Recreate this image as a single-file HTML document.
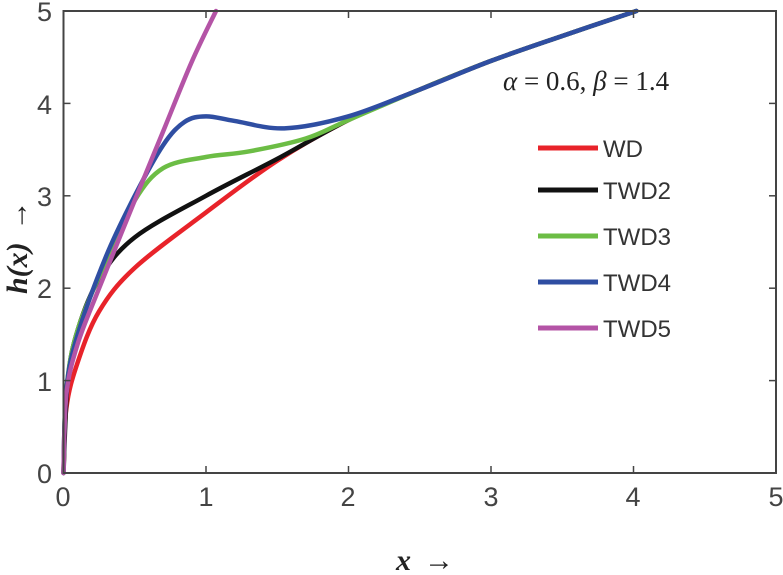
<!DOCTYPE html>
<html><head><meta charset="utf-8"><style>
html,body{margin:0;padding:0;background:#fff;}
svg{display:block;}
.t{font-family:"Liberation Sans",sans-serif;font-size:27px;fill:#444;}
.l{font-family:"Liberation Sans",sans-serif;font-size:24px;fill:#333;}
</style></head><body>
<svg id="s" width="783" height="575" viewBox="0 0 783 575" xmlns="http://www.w3.org/2000/svg">
<g id="curves" fill="none" stroke-width="4.5" stroke-linecap="round" stroke-linejoin="round"></g>
<rect x="63.5" y="11" width="712.5" height="462" fill="none" stroke="#444" stroke-width="2"/>
<g id="ticks" stroke="#444" stroke-width="1.5"></g>
<g class="t" text-anchor="middle">
<text x="63" y="506">0</text><text x="206" y="506">1</text><text x="348" y="506">2</text><text x="491" y="506">3</text><text x="633" y="506">4</text><text x="776" y="506">5</text>
</g>
<g class="t" text-anchor="end">
<text x="52" y="483">0</text><text x="52" y="391">1</text><text x="52" y="298">2</text><text x="52" y="206">3</text><text x="52" y="114">4</text><text x="52" y="21">5</text>
</g>
<text x="503" y="90" font-family="Liberation Serif,serif" font-size="27" fill="#222"><tspan font-style="italic">α</tspan> = 0.6, <tspan font-style="italic">β</tspan> = 1.4</text>
<g stroke-width="5">
<line x1="538" y1="148" x2="598" y2="148" stroke="#e8232a"/>
<line x1="538" y1="190" x2="598" y2="190" stroke="#111"/>
<line x1="538" y1="236" x2="598" y2="236" stroke="#6cbd45"/>
<line x1="538" y1="282" x2="598" y2="282" stroke="#2f4ea2"/>
<line x1="538" y1="328" x2="598" y2="328" stroke="#b454a6"/>
</g>
<g class="l">
<text x="603" y="157">WD</text><text x="603" y="199">TWD2</text><text x="603" y="245">TWD3</text><text x="603" y="291">TWD4</text><text x="603" y="337">TWD5</text>
</g>
<text x="396" y="570" font-family="Liberation Serif,serif" font-size="30" font-weight="bold" font-style="italic" fill="#222">x</text>
<text x="424" y="570" font-family="Liberation Serif,serif" font-size="30" fill="#222">→</text>
<text transform="translate(27,294) rotate(-90)" font-family="Liberation Serif,serif" font-size="30" font-weight="bold" font-style="italic" fill="#222">h(x)<tspan font-weight="normal" font-style="normal" dx="12">→</tspan></text>
</svg>
<script>
var X=function(x){return 63.5+142.5*x},Y=function(y){return 473-92.4*y};
function path(pts){
 var p=pts.map(function(a){return [X(a[0]),Y(a[1])]});
 var d="M"+p[0][0]+","+p[0][1];
 for(var i=0;i<p.length-1;i++){
  var p0=p[i-1]||p[i],p1=p[i],p2=p[i+1],p3=p[i+2]||p2;
  var c1=[p1[0]+(p2[0]-p0[0])/6,p1[1]+(p2[1]-p0[1])/6],c2=[p2[0]-(p3[0]-p1[0])/6,p2[1]-(p3[1]-p1[1])/6];
  d+=" C"+c1+" "+c2+" "+p2;
 }
 return d;
}
var tail=[[2,3.82],[2.5,4.15],[3,4.46],[3.5,4.73],[4.02,5]];
var S=[
 ["#e8232a",[[0,0],[0.02,0.7],[0.1,1.2],[0.25,1.75],[0.5,2.22],[1,2.82],[1.5,3.38]].concat(tail)],
 ["#111",[[0,0],[0.03,1.0],[0.1,1.55],[0.25,2.1],[0.5,2.55],[1,3.0],[1.5,3.4]].concat(tail)],
 ["#6cbd45",[[0,0],[0.02,0.9],[0.1,1.55],[0.3,2.3],[0.5,2.95],[0.7,3.3],[1,3.42],[1.3,3.48],[1.7,3.62]].concat(tail)],
 ["#2f4ea2",[[0,0],[0.02,0.9],[0.1,1.5],[0.3,2.35],[0.5,3.0],[0.7,3.55],[0.85,3.8],[1.0,3.86],[1.2,3.81],[1.55,3.73],[2,3.86],[2.5,4.15],[3,4.46],[3.5,4.73],[4.02,5]]],
 ["#b454a6",[[0,0],[0.02,0.85],[0.1,1.4],[0.25,2.0],[0.5,2.95],[0.7,3.7],[0.9,4.45],[1.07,5]]]
];
var g=document.getElementById("curves"),ns="http://www.w3.org/2000/svg";
S.forEach(function(s){var e=document.createElementNS(ns,"path");e.setAttribute("d",path(s[1]));e.setAttribute("stroke",s[0]);g.appendChild(e);});
var t=document.getElementById("ticks"),h="";
for(var i=1;i<5;i++){var x=X(i);h+='<line x1="'+x+'" y1="473" x2="'+x+'" y2="466"/><line x1="'+x+'" y1="11" x2="'+x+'" y2="18"/>';}
for(var j=1;j<5;j++){var y=Y(j);h+='<line x1="63.5" y1="'+y+'" x2="70.5" y2="'+y+'"/><line x1="776" y1="'+y+'" x2="769" y2="'+y+'"/>';}
t.innerHTML=h;
</script>
</body></html>
